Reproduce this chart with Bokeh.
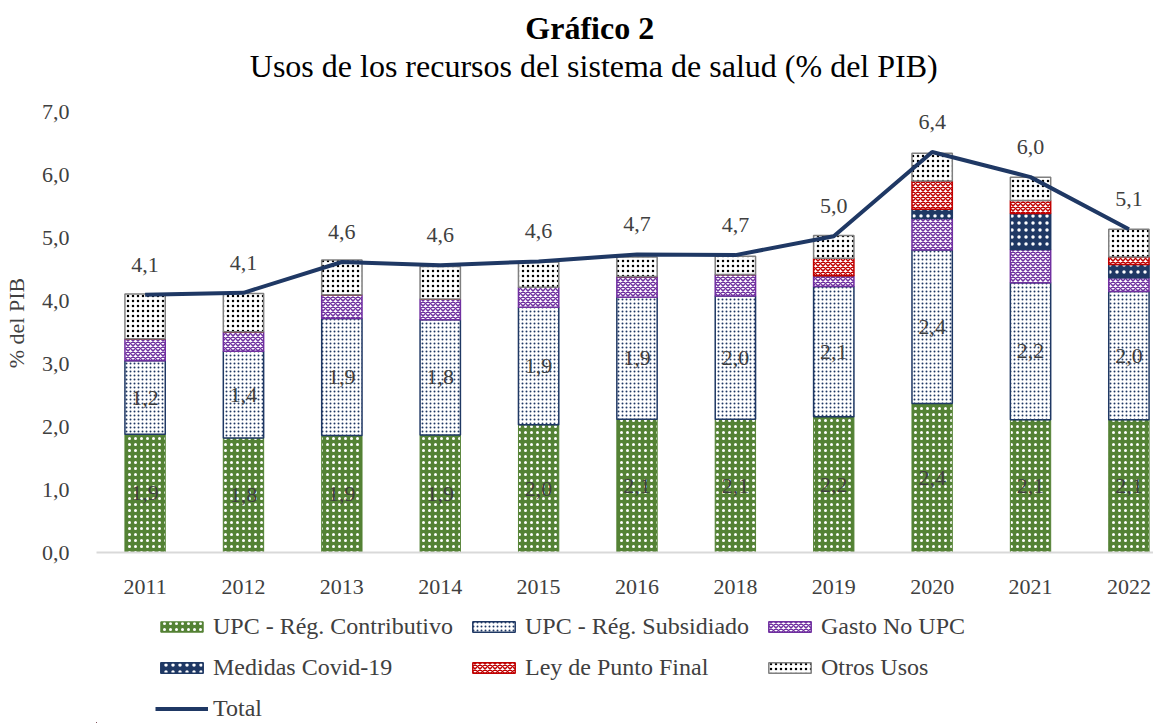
from bokeh.plotting import figure
from bokeh.layouts import column
from bokeh.models import ColumnDataSource, Range1d, FixedTicker, Legend, LegendItem
from bokeh.core.properties import value
from bokeh.embed import file_html
from bokeh.resources import INLINE

# ---------------- data ----------------
years = ["2011", "2012", "2013", "2014", "2015", "2016", "2018", "2019", "2020", "2021", "2022"]
contributivo = [1.88, 1.82, 1.86, 1.87, 2.03, 2.12, 2.12, 2.16, 2.37, 2.11, 2.11]
subsidiado = [1.17, 1.38, 1.86, 1.83, 1.87, 1.94, 1.96, 2.07, 2.44, 2.18, 2.04]
gasto_no_upc = [0.35, 0.31, 0.38, 0.33, 0.32, 0.33, 0.34, 0.17, 0.50, 0.53, 0.22]
covid = [0.0, 0.0, 0.0, 0.0, 0.0, 0.0, 0.0, 0.0, 0.15, 0.57, 0.21]
punto_final = [0.0, 0.0, 0.0, 0.0, 0.0, 0.0, 0.0, 0.28, 0.45, 0.21, 0.12]
otros = [0.71, 0.61, 0.55, 0.52, 0.40, 0.31, 0.29, 0.36, 0.44, 0.37, 0.44]
total = [4.10, 4.13, 4.62, 4.57, 4.63, 4.74, 4.73, 5.03, 6.37, 5.97, 5.14]
y_ticks = [0, 1, 2, 3, 4, 5, 6, 7]

title_text = "Gráfico 2"
subtitle_text = "Usos de los recursos del sistema de salud (% del PIB)"
series_names = ["UPC - Rég. Contributivo", "UPC - Rég. Subsidiado", "Gasto No UPC",
                "Medidas Covid-19", "Ley de Punto Final", "Otros Usos"]
stack_keys = ["contributivo", "subsidiado", "gasto", "covid", "punto", "otros"]

# ---------------- styles ----------------
GREEN = "#548235"
NAVY = "#1F3864"
PURPLE = "#7030A0"
RED = "#C00000"
GRAY = "#7F7F7F"
TXT = "#404040"
FONT = "Liberation Serif"
W = 1153
LEFT = 88

styles = dict(
    fill_color=[GREEN, "white", "white", NAVY, "white", "white"],
    line_color=[GREEN, NAVY, PURPLE, NAVY, RED, GRAY],
    line_width=[1, 1.5, 1.5, 1.5, 1.5, 1.5],
    hatch_pattern=["dot", "dot", "diagonal_cross", "dot", "diagonal_cross", "dot"],
    hatch_color=["white", NAVY, PURPLE, "white", RED, "black"],
    hatch_scale=[6, 4, 5, 7, 5, 5],
    hatch_weight=[1, 1, 1.5, 1, 1.5, 1],
)


def fmt(v):
    return f"{v:.1f}".replace(".", ",")


def blank(fig):
    fig.outline_line_color = None
    fig.xgrid.visible = False
    fig.ygrid.visible = False


x = list(range(len(years)))
src = ColumnDataSource(dict(
    x=x,
    contributivo=contributivo,
    subsidiado=subsidiado,
    gasto=gasto_no_upc,
    covid=covid,
    punto=punto_final,
    otros=otros,
    total=total,
    total_lbl=[fmt(v) for v in total],
    c_lbl=[fmt(v) for v in contributivo],
    s_lbl=[fmt(v) for v in subsidiado],
    c_mid=[c / 2 for c in contributivo],
    s_mid=[c + s / 2 for c, s in zip(contributivo, subsidiado)],
))

# ---------------- header (titles) ----------------
HEAD_H = 93
hf = figure(width=W, height=HEAD_H, output_backend="svg", toolbar_location=None,
            x_range=Range1d(LEFT, W), y_range=Range1d(HEAD_H, 0),
            x_axis_location=None, y_axis_location=None, min_border=0)
blank(hf)
hf.text(x=[585], y=[27], text=[title_text], text_align="center", text_baseline="middle",
        text_font=value(FONT), text_font_size="32px", text_font_style="bold", text_color="black")
hf.text(x=[589], y=[65], text=[subtitle_text], text_align="center", text_baseline="middle",
        text_font=value(FONT), text_font_size="32px", text_color="black")

# ---------------- main chart ----------------
p = figure(width=W, height=507, output_backend="svg", toolbar_location=None,
           x_range=Range1d(-0.494, 10.25), y_range=Range1d(0, 7.3),
           min_border_left=LEFT, min_border_right=0, min_border_top=0, min_border_bottom=48)
blank(p)

p.vbar_stack(stack_keys, x="x", width=0.41, source=src, **styles)
p.line("x", "total", source=src, line_color=NAVY, line_width=4)

for ycol, tcol, yoff in [("total", "total_lbl", -30), ("c_mid", "c_lbl", 0), ("s_mid", "s_lbl", 0)]:
    p.text("x", ycol, text=tcol, source=src, y_offset=yoff,
           text_align="center", text_baseline="middle", text_color=TXT,
           text_font=value(FONT), text_font_size="22px")

p.xaxis.ticker = FixedTicker(ticks=x)
p.xaxis.major_label_overrides = {i: y for i, y in enumerate(years)}
p.xaxis.axis_line_color = "#D9D9D9"
p.xaxis.axis_line_width = 2
p.xaxis.major_tick_line_color = None
p.xaxis.minor_tick_line_color = None
p.xaxis.major_label_standoff = 21
p.xaxis.major_label_text_font = FONT
p.xaxis.major_label_text_font_size = "22px"
p.xaxis.major_label_text_color = TXT

p.yaxis.ticker = FixedTicker(ticks=y_ticks)
p.yaxis.major_label_overrides = {t: fmt(t) for t in y_ticks}
p.yaxis.axis_line_color = None
p.yaxis.major_tick_line_color = None
p.yaxis.minor_tick_line_color = None
p.yaxis.major_label_standoff = 21
p.yaxis.major_label_text_font = FONT
p.yaxis.major_label_text_font_size = "22px"
p.yaxis.major_label_text_color = TXT
p.yaxis.axis_label = "% del PIB"
p.yaxis.axis_label_text_font = FONT
p.yaxis.axis_label_text_font_size = "22px"
p.yaxis.axis_label_text_font_style = "normal"
p.yaxis.axis_label_text_color = TXT
p.yaxis.axis_label_standoff = 10

# ---------------- legend strip ----------------
# the same series are drawn here outside the visible ranges, only to feed the legend
LEG_H = 123
lf = figure(width=W, height=LEG_H, output_backend="svg", toolbar_location=None,
            x_range=Range1d(20, 21), y_range=Range1d(20, 21),
            x_axis_location=None, y_axis_location=None, min_border=0)
blank(lf)
leg_bars = lf.vbar_stack(stack_keys, x="x", width=0.41, source=src, **styles)
leg_line = lf.line("x", "total", source=src, line_color=NAVY, line_width=4)

items = [LegendItem(label=n, renderers=[r]) for n, r in zip(series_names, leg_bars)]
items.append(LegendItem(label="Total", renderers=[leg_line]))
legend = Legend(items=items, orientation="horizontal", ncols=3,
                location=(59, 1), padding=0, margin=0, spacing=14,
                glyph_width=53, glyph_height=13, label_standoff=5, label_height=23,
                label_text_font=FONT, label_text_font_size="24px", label_text_color=TXT,
                border_line_color=None, background_fill_alpha=0)
lf.add_layout(legend, "center")

layout = column(hf, p, lf, spacing=0)
open("out.html", "w").write(file_html(layout, INLINE))
